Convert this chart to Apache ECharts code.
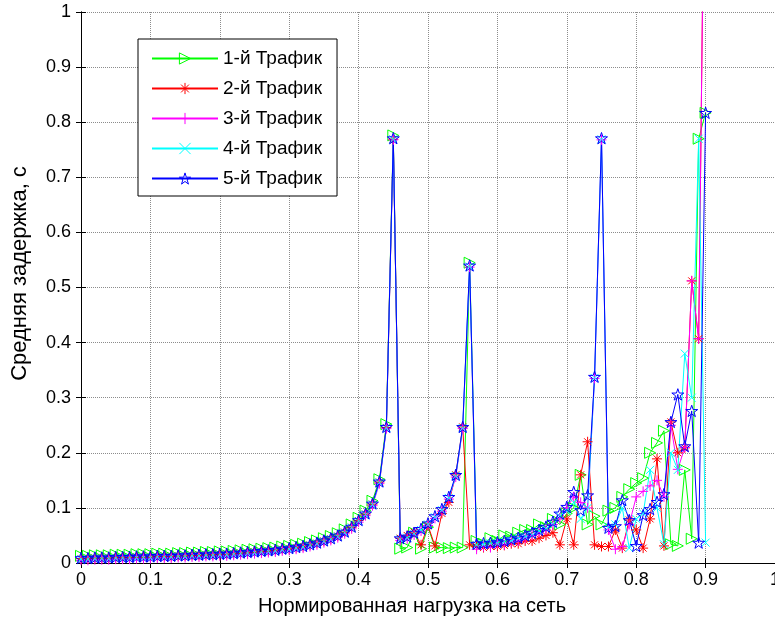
<!DOCTYPE html>
<html>
<head>
<meta charset="utf-8">
<script src="https://cdn.jsdelivr.net/npm/echarts@6/dist/echarts.min.js"></script>
<style>
  html, body { margin: 0; padding: 0; background: #fff; }
  #chart { width: 775px; height: 622px; }
</style>
</head>
<body>
<div id="chart"></div>
<script>
// нормированная нагрузка (ось X)
var loadX = [
  0, 0.01, 0.02, 0.03, 0.04, 0.05, 0.06, 0.07, 0.08, 0.09,
  0.10, 0.11, 0.12, 0.13, 0.14, 0.15, 0.16, 0.17, 0.18, 0.19,
  0.20, 0.21, 0.22, 0.23, 0.24, 0.25, 0.26, 0.27, 0.28, 0.29,
  0.30, 0.31, 0.32, 0.33, 0.34, 0.35, 0.36, 0.37, 0.38, 0.39,
  0.40, 0.41, 0.42, 0.43, 0.44, 0.45, 0.46, 0.47, 0.48, 0.49,
  0.50, 0.51, 0.52, 0.53, 0.54, 0.55, 0.56, 0.57, 0.58, 0.59,
  0.60, 0.61, 0.62, 0.63, 0.64, 0.65, 0.66, 0.67, 0.68, 0.69,
  0.70, 0.71, 0.72, 0.73, 0.74, 0.75, 0.76, 0.77, 0.78, 0.79,
  0.80, 0.81, 0.82, 0.83, 0.84, 0.85, 0.86, 0.87, 0.88, 0.89,
  0.90
];

var traffic1 = [
  0.013, 0.013, 0.014, 0.014, 0.014, 0.015, 0.015, 0.015, 0.016, 0.016,
  0.016, 0.017, 0.017, 0.017, 0.018, 0.018, 0.019, 0.019, 0.020, 0.020,
  0.021, 0.021, 0.022, 0.023, 0.024, 0.025, 0.026, 0.027, 0.028, 0.030,
  0.031, 0.033, 0.035, 0.038, 0.041, 0.045, 0.049, 0.054, 0.061, 0.070,
  0.082, 0.095, 0.113, 0.152, 0.252, 0.776,
  0.026, 0.028, 0.055, 0.026, 0.065, 0.028, 0.028, 0.027, 0.028, 0.028, 0.545,
  0.040, 0.035, 0.045, 0.040, 0.050, 0.048, 0.055, 0.060, 0.060, 0.070, 0.065, 0.080,
  0.070, 0.090, 0.100, 0.160, 0.070, 0.085, 0.070,
  0.095, 0.100, 0.120, 0.134, 0.145, 0.154, 0.200, 0.218, 0.240, 0.034, 0.031, 0.169, 0.044, 0.770, 0.817
];

var traffic2 = [
  0.008, 0.008, 0.009, 0.009, 0.009, 0.010, 0.010, 0.010, 0.011, 0.011,
  0.011, 0.012, 0.012, 0.012, 0.013, 0.013, 0.014, 0.014, 0.015, 0.015,
  0.016, 0.016, 0.017, 0.018, 0.019, 0.020, 0.021, 0.022, 0.023, 0.025,
  0.026, 0.028, 0.030, 0.033, 0.036, 0.040, 0.044, 0.049, 0.056, 0.065,
  0.077, 0.089, 0.107, 0.147, 0.246, 0.769,
  0.045, 0.050, 0.056, 0.033, 0.068, 0.031, 0.090, 0.110, 0.160, 0.247, 0.033,
  0.030, 0.028, 0.030, 0.030, 0.032, 0.035, 0.035, 0.040, 0.040, 0.045, 0.050, 0.055,
  0.033, 0.080, 0.033, 0.160, 0.220, 0.033, 0.030,
  0.030, 0.060, 0.027, 0.078, 0.060, 0.027, 0.080, 0.189, 0.031, 0.256, 0.200, 0.209, 0.512, 0.407, 1.500
];

var traffic3 = [
  0.005, 0.005, 0.006, 0.006, 0.006, 0.007, 0.007, 0.007, 0.008, 0.008,
  0.008, 0.009, 0.009, 0.009, 0.010, 0.010, 0.011, 0.011, 0.012, 0.012,
  0.013, 0.013, 0.014, 0.015, 0.016, 0.017, 0.018, 0.019, 0.020, 0.022,
  0.023, 0.025, 0.027, 0.030, 0.033, 0.037, 0.041, 0.046, 0.053, 0.062,
  0.074, 0.086, 0.104, 0.144, 0.244, 0.768,
  0.041, 0.044, 0.051, 0.058, 0.068, 0.081, 0.094, 0.116, 0.156, 0.244, 0.537,
  0.025, 0.030, 0.028, 0.035, 0.033, 0.038, 0.040, 0.045, 0.050, 0.055, 0.060, 0.070,
  0.080, 0.100, 0.120, 0.110, 0.100, 0.335, 0.768,
  0.060, 0.025, 0.030, 0.070, 0.120, 0.130, 0.140, 0.150, 0.120, 0.250, 0.170, 0.210, 0.512, 0.407, 1.500
];

var traffic4 = [
  0.007, 0.007, 0.008, 0.008, 0.008, 0.009, 0.009, 0.009, 0.010, 0.010,
  0.010, 0.011, 0.011, 0.011, 0.012, 0.012, 0.013, 0.013, 0.014, 0.014,
  0.015, 0.015, 0.016, 0.017, 0.018, 0.019, 0.020, 0.021, 0.022, 0.024,
  0.025, 0.027, 0.029, 0.032, 0.035, 0.039, 0.043, 0.048, 0.055, 0.064,
  0.076, 0.088, 0.106, 0.146, 0.245, 0.769,
  0.043, 0.046, 0.053, 0.060, 0.070, 0.083, 0.096, 0.118, 0.158, 0.245, 0.538,
  0.033, 0.034, 0.036, 0.036, 0.039, 0.040, 0.045, 0.048, 0.050, 0.058, 0.062, 0.070,
  0.085, 0.095, 0.110, 0.080, 0.100, 0.336, 0.769,
  0.065, 0.070, 0.100, 0.027, 0.080, 0.090, 0.169, 0.100, 0.034, 0.200, 0.169, 0.380, 0.300, 0.770, 0.037
];

var traffic5 = [
  0.009, 0.009, 0.010, 0.010, 0.010, 0.011, 0.011, 0.011, 0.012, 0.012,
  0.012, 0.013, 0.013, 0.013, 0.014, 0.014, 0.015, 0.015, 0.016, 0.016,
  0.017, 0.017, 0.018, 0.019, 0.020, 0.021, 0.022, 0.023, 0.024, 0.026,
  0.027, 0.029, 0.031, 0.034, 0.037, 0.041, 0.045, 0.050, 0.057, 0.066,
  0.078, 0.090, 0.108, 0.148, 0.247, 0.771,
  0.045, 0.048, 0.055, 0.062, 0.072, 0.085, 0.098, 0.120, 0.160, 0.247, 0.540,
  0.035, 0.036, 0.037, 0.038, 0.040, 0.043, 0.046, 0.050, 0.055, 0.060, 0.066, 0.075,
  0.090, 0.102, 0.129, 0.096, 0.123, 0.338, 0.771,
  0.064, 0.067, 0.114, 0.078, 0.031, 0.087, 0.098, 0.111, 0.125, 0.256, 0.306, 0.212, 0.276, 0.037, 0.817
];

var seriesNames = ["1-й Трафик", "2-й Трафик", "3-й Трафик", "4-й Трафик", "5-й Трафик"];
var seriesData = [traffic1, traffic2, traffic3, traffic4, traffic5];
var colors = ["#00ff00", "#ff0000", "#ff00ff", "#00ffff", "#0000ff"];

// маркеры как в MATLAB: '>', '*', '+', 'x', 'p'
var symbols = [
  "path://M0,0L10,5L0,10Z",
  "path://M5,0L5,10M0,5L10,5M1.5,1.5L8.5,8.5M1.5,8.5L8.5,1.5",
  "path://M5,0L5,10M0,5L10,5",
  "path://M0,0L10,10M0,10L10,0",
  "path://M50,0L61.23,34.55L97.55,34.55L68.17,55.9L79.39,90.45L50,69.1L20.61,90.45L31.83,55.9L2.45,34.55L38.77,34.55Z"
];
var symbolSizes = [11, 10, 10, 8, 12];

var font = "'Liberation Sans', Arial, sans-serif";

var chart = echarts.init(document.getElementById("chart"));

var series = seriesData.map(function (vals, i) {
  return {
    name: seriesNames[i],
    type: "line",
    data: vals.map(function (v, k) { return [loadX[k], v]; }),
    symbol: symbols[i],
    symbolSize: symbolSizes[i],
    symbolKeepAspect: true,
    showSymbol: true,
    showAllSymbol: true,
    clip: true,
    lineStyle: { color: colors[i], width: 1 },
    itemStyle: { color: "none", borderColor: colors[i], borderWidth: 1 },
    emphasis: { disabled: true }
  };
});

var boxAxis = {
  axisLine: { show: true, lineStyle: { color: "#000", width: 1 } },
  axisTick: { show: true, inside: true, length: 5, lineStyle: { color: "#000" } },
  axisLabel: { show: false },
  splitLine: { show: false }
};

chart.setOption({
  animation: false,
  backgroundColor: "#fff",
  grid: { left: 81, top: 12, width: 694, height: 551, outerBoundsMode: "none", containLabel: false },
  legend: {
    orient: "vertical",
    left: 138,
    top: 39,
    padding: [10, 15, 8, 13],
    backgroundColor: "#fff",
    borderColor: "#000",
    borderWidth: 1,
    itemWidth: 66,
    itemHeight: 14,
    itemGap: 11,
    selectedMode: false,
    itemStyle: { color: "none", borderWidth: 1 },
    textStyle: { fontSize: 19, color: "#000", fontFamily: font },
    data: seriesNames
  },
  xAxis: [
    {
      type: "value",
      position: "bottom",
      min: 0,
      max: 1,
      interval: 0.1,
      name: "Нормированная нагрузка на сеть",
      nameLocation: "middle",
      nameGap: 33,
      nameTextStyle: { fontSize: 20, color: "#000", fontFamily: font, padding: [0, 32, 0, 0] },
      axisLine: { show: true, lineStyle: { color: "#000", width: 1 } },
      axisTick: { show: true, inside: true, length: 5, lineStyle: { color: "#000" } },
      axisLabel: { fontSize: 18, color: "#000", fontFamily: font, margin: 8 },
      splitLine: { show: true, lineStyle: { color: "#8c8c8c", type: "dotted", width: 1 } }
    },
    Object.assign({ type: "value", position: "top", min: 0, max: 1, interval: 0.1 }, boxAxis)
  ],
  yAxis: [
    {
      type: "value",
      position: "left",
      min: 0,
      max: 1,
      interval: 0.1,
      name: "Средняя задержка, с",
      nameLocation: "middle",
      nameRotate: 90,
      nameGap: 50,
      nameTextStyle: { fontSize: 22, color: "#000", fontFamily: font, padding: [0, 0, 0, 28] },
      axisLine: { show: true, lineStyle: { color: "#000", width: 1 } },
      axisTick: { show: true, inside: true, length: 5, lineStyle: { color: "#000" } },
      axisLabel: { fontSize: 18, color: "#000", fontFamily: font, margin: 10 },
      splitLine: { show: true, lineStyle: { color: "#8c8c8c", type: "dotted", width: 1 } }
    },
    Object.assign({ type: "value", position: "right", min: 0, max: 1, interval: 0.1 }, boxAxis)
  ],
  series: series
});
</script>
</body>
</html>
